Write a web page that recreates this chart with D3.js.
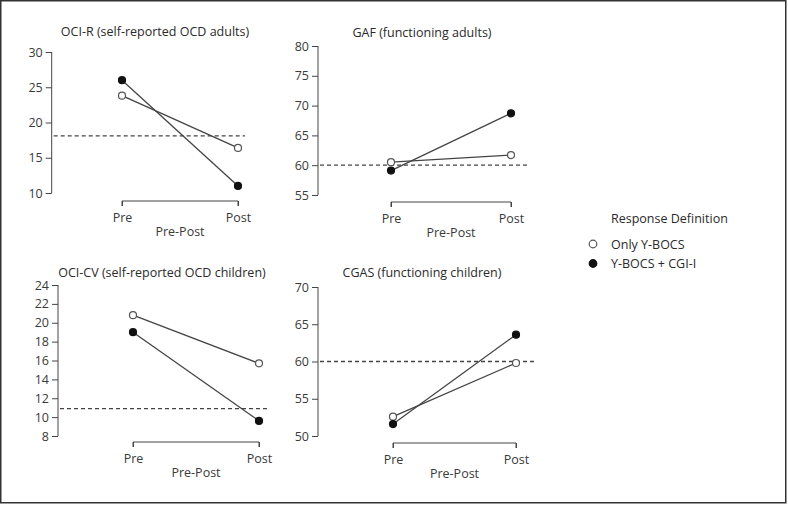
<!DOCTYPE html>
<html>
<head>
<meta charset="utf-8">
<script src="https://cdn.jsdelivr.net/npm/d3@7"></script>
<style>
  body { margin: 0; background: #fff; }
  svg { display: block; font-family: "Open Sans", sans-serif; }
</style>
</head>
<body>
<div id="chart"></div>
<script>
"use strict";

var timepoints = ["Pre", "Post"];
var seriesNames = ["Only Y-BOCS", "Y-BOCS + CGI-I"];
var panelTitles = [
    "OCI-R (self-reported OCD adults)",
    "GAF (functioning adults)",
    "OCI-CV (self-reported OCD children)",
    "CGAS (functioning children)"
];
// values per panel, [Pre, Post]
var onlyYbocs = [[23.8, 16.4], [60.5, 61.7], [20.8, 15.7], [52.6, 59.8]];
var ybocsCgi = [[26.0, 11.0], [59.1, 68.7], [19.0, 9.6], [51.6, 63.6]];
var cutoffs = [18.1, 60.0, 10.9, 60.0];
var yTicks = [
    [10, 15, 20, 25, 30],
    [55, 60, 65, 70, 75, 80],
    [8, 10, 12, 14, 16, 18, 20, 22, 24],
    [50, 55, 60, 65, 70]
];

var width = 788, height = 505;
var lineColor = "#444";

// panel layout in pixels
var layout = [
    { axisX: 51.7, top: 52, bottom: 193, pre: 122, post: 238, right: 245, bracketY: 201, titleX: 155, titleY: 36 },
    { axisX: 318, top: 46, bottom: 195, pre: 391, post: 511, right: 529, bracketY: 202, titleX: 422, titleY: 37 },
    { axisX: 58, top: 285, bottom: 436, pre: 133, post: 259, right: 267, bracketY: 442, titleX: 162, titleY: 277 },
    { axisX: 318, top: 287, bottom: 436, pre: 393, post: 516, right: 535, bracketY: 443, titleX: 422, titleY: 277 }
];

var svg = d3.select("#chart")
    .append("svg")
    .attr("width", width)
    .attr("height", height);

svg.append("rect")
    .attr("x", 0.75).attr("y", 0.75)
    .attr("width", 785).attr("height", 502)
    .attr("fill", "#fff")
    .attr("stroke", "#333")
    .attr("stroke-width", 1.5);

layout.forEach(function (L, i) {
    var g = svg.append("g");
    var ticks = yTicks[i];

    var y = d3.scaleLinear()
        .domain([ticks[0], ticks[ticks.length - 1]])
        .range([L.bottom, L.top]);
    var x = d3.scalePoint()
        .domain(timepoints)
        .range([L.pre, L.post]);

    // y axis
    var yAxis = g.append("g")
        .attr("transform", "translate(" + L.axisX + ",0)")
        .call(d3.axisLeft(y).tickValues(ticks).tickSize(6).tickPadding(3).tickFormat(d3.format("d")));
    yAxis.select(".domain").attr("d", "M0," + y(ticks[0]) + "V" + y(ticks[ticks.length - 1]));

    // x axis bracket
    var xAxis = g.append("g")
        .attr("transform", "translate(0," + L.bracketY + ")")
        .call(d3.axisBottom(x).tickSize(5).tickPadding(7).tickSizeOuter(0));
    xAxis.select(".domain").attr("d", "M" + L.pre + ",5V0H" + L.post + "V5");

    [yAxis, xAxis].forEach(function (a) {
        a.selectAll(".domain, line").attr("stroke", "#444").attr("stroke-width", 1);
        a.selectAll("text")
            .attr("fill", "#3a3a3a")
            .style("font-size", "12.5px")
            .style("font-family", "'Open Sans', sans-serif");
    });
    xAxis.selectAll(".tick line").attr("y2", 5);

    g.append("text")
        .attr("x", (L.pre + L.post) / 2)
        .attr("y", L.bracketY + 35)
        .attr("text-anchor", "middle")
        .attr("fill", "#3a3a3a")
        .style("font-size", "12.5px")
        .text("Pre-Post");

    g.append("text")
        .attr("x", L.titleX)
        .attr("y", L.titleY)
        .attr("text-anchor", "middle")
        .attr("fill", "#2a2a2a")
        .style("font-size", "12.5px")
        .text(panelTitles[i]);

    // cutoff line
    g.append("line")
        .attr("x1", L.axisX + 2).attr("x2", L.right)
        .attr("y1", y(cutoffs[i])).attr("y2", y(cutoffs[i]))
        .attr("stroke", "#444")
        .attr("stroke-width", 1.3)
        .attr("stroke-dasharray", "4,3");

    var line = d3.line()
        .x(function (d, j) { return x(timepoints[j]); })
        .y(function (d) { return y(d); });

    [onlyYbocs[i], ybocsCgi[i]].forEach(function (vals, s) {
        g.append("path")
            .datum(vals)
            .attr("d", line)
            .attr("fill", "none")
            .attr("stroke", lineColor)
            .attr("stroke-width", 1.3);
        g.selectAll(null)
            .data(vals)
            .enter().append("circle")
            .attr("cx", function (d, j) { return x(timepoints[j]); })
            .attr("cy", function (d) { return y(d); })
            .attr("r", 3.5)
            .attr("fill", s === 0 ? "#fff" : "#111")
            .attr("stroke", s === 0 ? "#555" : "#111")
            .attr("stroke-width", 1.2);
    });
});

// legend
var legend = svg.append("g");
legend.append("text")
    .attr("x", 611)
    .attr("y", 223)
    .attr("fill", "#2a2a2a")
    .style("font-size", "12.5px")
    .text("Response Definition");

seriesNames.forEach(function (name, s) {
    var ly = 244 + s * 19.5;
    legend.append("circle")
        .attr("cx", 593).attr("cy", ly)
        .attr("r", 3.8)
        .attr("fill", s === 0 ? "#fff" : "#111")
        .attr("stroke", s === 0 ? "#555" : "#111")
        .attr("stroke-width", 1.2);
    legend.append("text")
        .attr("x", 611)
        .attr("y", ly + 4.5)
        .attr("fill", "#2a2a2a")
        .style("font-size", "12.5px")
        .text(name);
});
</script>
</body>
</html>
